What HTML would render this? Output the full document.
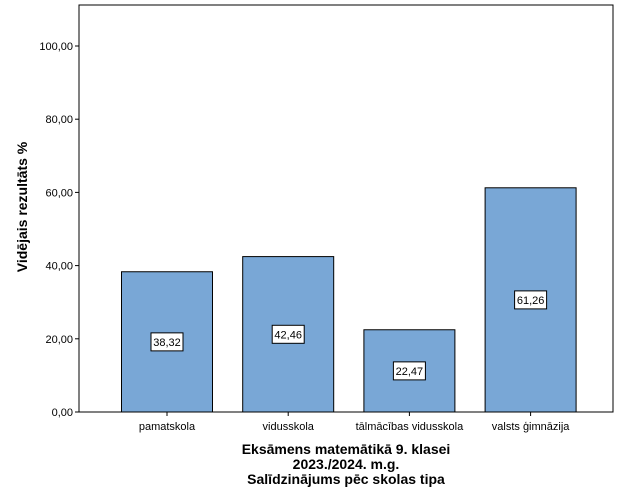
<!DOCTYPE html>
<html><head><meta charset="utf-8"><style>
body{margin:0;background:#fff}
svg{display:block;font-family:"Liberation Sans",sans-serif}
</style></head><body>
<svg id="chart" width="625" height="500" viewBox="0 0 625 500">
<rect x="0" y="0" width="625" height="500" fill="#fff"/>
<g id="plot"></g>
<text transform="translate(27,207) rotate(-90)" text-anchor="middle" font-size="14" font-weight="bold">Vidējais rezultāts %</text>
<g font-size="14" font-weight="bold" text-anchor="middle">
<text x="346" y="454">Eksāmens matemātikā 9. klasei</text>
<text x="346" y="469">2023./2024. m.g.</text>
<text x="346" y="484">Salīdzinājums pēc skolas tipa</text>
</g>
</svg>
<script>
const categories = ["pamatskola","vidusskola","tālmācības vidusskola","valsts ģimnāzija"];
const values = [38.32, 42.46, 22.47, 61.26];
const valueLabels = ["38,32","42,46","22,47","61,26"];
const yTicks = [0,20,40,60,80,100];
const yTickLabels = ["0,00","20,00","40,00","60,00","80,00","100,00"];

const NS="http://www.w3.org/2000/svg";
const L=79,R=613,T=5,B=412;
const y=v=>B-v*3.66;
const xc=i=>167+i*121.2;
const bw=91;
const g=document.getElementById('plot');
function mk(t,a){const e=document.createElementNS(NS,t);for(const k in a)e.setAttribute(k,a[k]);g.appendChild(e);return e;}

const frame=mk('rect',{x:L,y:T,width:R-L,height:B-T,fill:'none',stroke:'#000','stroke-width':1});



yTicks.forEach((v,i)=>{
  const tk=mk('line',{x1:L-4,x2:L,y1:y(v),y2:y(v),stroke:'#000'});
  
  
  const t=mk('text',{x:L-6,y:y(v)+4,'text-anchor':'end','font-size':11});
  t.textContent=yTickLabels[i];
  
  
});

categories.forEach((c,i)=>{
  const cx=xc(i);
  const b=mk('rect',{x:cx-bw/2,y:y(values[i]),width:bw,height:B-y(values[i]),fill:'#79a7d6',stroke:'#000','stroke-width':1});
  
  
  const tk=mk('line',{x1:cx,x2:cx,y1:B,y2:B+4,stroke:'#000'});
  
  
  const t=mk('text',{x:cx,y:B+18,'text-anchor':'middle','font-size':11});
  t.textContent=c;
  
  
  const my=(y(values[i])+B)/2;
  const bx=mk('rect',{x:cx-16,y:my-9,width:32,height:18,fill:'#fff',stroke:'#000','stroke-width':1});
  
  
  const vt=mk('text',{x:cx,y:my+4,'text-anchor':'middle','font-size':11});
  vt.textContent=valueLabels[i];
  
  
});
</script>
</body></html>
